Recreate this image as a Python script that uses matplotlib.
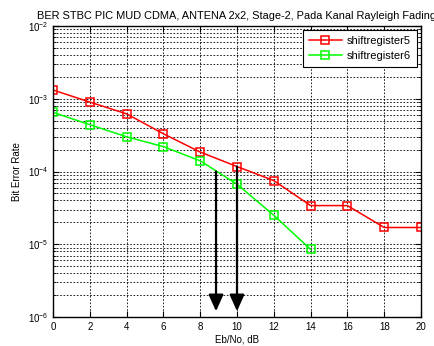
import matplotlib
matplotlib.use("Agg")
import matplotlib.pyplot as plt
import numpy as np
from matplotlib.ticker import LogLocator, NullFormatter

plt.rcParams['font.family'] = ['Liberation Sans', 'DejaVu Sans']

ebno = [0, 2, 4, 6, 8, 10, 12, 14, 16, 18, 20]
ber_sr5 = [1.32e-3, 9.0e-4, 6.2e-4, 3.3e-4, 1.85e-4, 1.17e-4, 7.5e-5, 3.4e-5, 3.4e-5, 1.7e-5, 1.7e-5]
ebno6 = [0, 2, 4, 6, 8, 10, 12, 14]
ber_sr6 = [6.5e-4, 4.4e-4, 3.0e-4, 2.2e-4, 1.4e-4, 6.7e-5, 2.5e-5, 8.5e-6]
labels = ['shiftregister5', 'shiftregister6']
title = 'BER STBC PIC MUD CDMA, ANTENA 2x2, Stage-2, Pada Kanal Rayleigh Fading'
arrow_x = [8.86, 10.0]
arrow_start = [1.0e-4, 1.17e-4]
arrow_end = 1.2e-6

fig = plt.figure(figsize=(4.35, 3.46), dpi=100)
ax = fig.add_axes([53/435, 1-317/346, (421-53)/435, (317-26)/346])

ax.semilogy(ebno, ber_sr5, '-s', color='red', lw=1.1, ms=5.5, mfc='none', mew=1.1, label=labels[0])
ax.semilogy(ebno6, ber_sr6, '-s', color='#00ff00', lw=1.1, ms=5.5, mfc='none', mew=1.1, label=labels[1])

for xa, ys in zip(arrow_x, arrow_start):
    ax.annotate('', xy=(xa, arrow_end), xytext=(xa, ys),
                arrowprops=dict(arrowstyle='-|>,head_width=0.45,head_length=1.0', color='black', lw=1.6,
                                shrinkA=0, shrinkB=0))

ax.set_xlim(0, 20)
ax.set_ylim(1e-6, 1e-2)
ax.set_xticks(np.arange(0, 21, 2))
ax.yaxis.set_major_locator(LogLocator(base=10, numticks=10))
ax.yaxis.set_minor_locator(LogLocator(base=10, subs=np.arange(2, 10), numticks=10))
ax.yaxis.set_minor_formatter(NullFormatter())
ax.grid(True, which='major', linestyle=(0, (2, 2)), color='black', lw=0.6)
ax.grid(True, which='minor', axis='y', linestyle=(0, (2, 2)), color='black', lw=0.6)
ax.tick_params(which='both', direction='in', top=True, right=True, labelsize=7)
ax.tick_params(which='major', length=4)
ax.tick_params(which='minor', length=2)
for s in ax.spines.values():
    s.set_linewidth(1.0)
    s.set_color('black')

ax.set_xlabel('Eb/No, dB', fontsize=7, labelpad=2)
ax.set_ylabel('Bit Error Rate', fontsize=7, labelpad=4)
ax.set_title(title, fontsize=7.9, pad=5)

leg = ax.legend(loc='upper right', fontsize=8, fancybox=False, edgecolor='black', framealpha=1,
                borderaxespad=0.4, handlelength=3.0, handletextpad=0.45, labelspacing=0.45,
                borderpad=0.5)
leg.get_frame().set_linewidth(0.8)

fig.savefig('out.png', dpi=100)
